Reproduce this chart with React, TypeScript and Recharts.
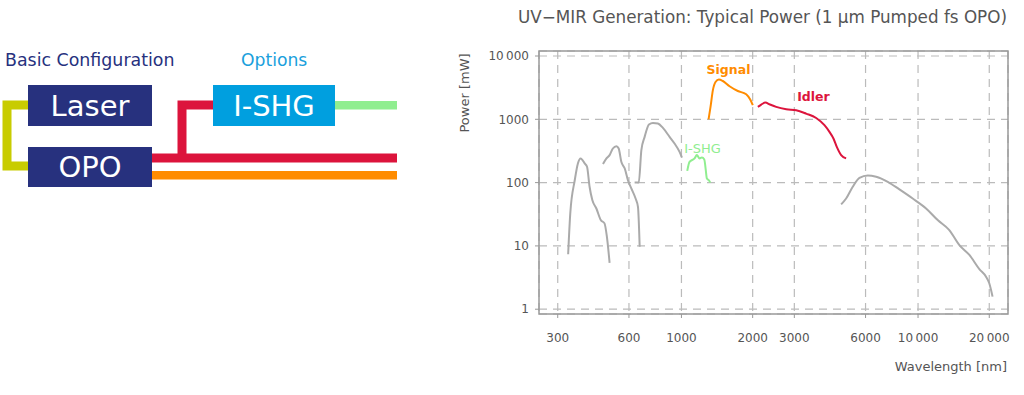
import {
  LineChart,
  Line,
  XAxis,
  YAxis,
  CartesianGrid,
  ReferenceArea,
  ReferenceDot,
} from "recharts";

const FONT = "'DejaVu Sans', sans-serif";

// axis ticks
const wavelengthTicks = [300, 600, 1000, 2000, 3000, 6000, 10000, 20000];
const powerTicks = [1, 10, 100, 1000, 10000];

// gray: third harmonic / UV
const uvWavelength = [332, 339, 354, 365, 375, 390, 399, 409, 420, 437, 456, 473, 484, 497];
const uvPower = [7.4, 33, 109, 201, 241, 201, 178, 86, 53, 39, 25.6, 22.7, 14, 5.4];

// gray: SHG of idler / blue-green
const visWavelength = [466, 482, 497, 513, 531, 543, 557, 576, 594, 614, 640, 655, 666];
const visPower = [196, 241, 272, 346, 377, 346, 213, 167, 109, 81, 56, 41.5, 9.7];

// gray: SHG of signal / red-NIR
const nirWavelength = [634, 660, 677, 699, 729, 758, 795, 835, 891, 935, 982, 1005];
const nirPower = [100, 100, 326, 528, 828, 877, 859, 731, 528, 415, 306, 249];

// green: I-SHG option
const ishgWavelength = [1058, 1082, 1136, 1162, 1193, 1220, 1249, 1265, 1281, 1306, 1324];
const ishgPower = [153, 213, 241, 272, 241, 249, 232, 167, 116, 109, 100];

// orange: signal
const signalWavelength = [1302, 1327, 1358, 1393, 1439, 1496, 1597, 1731, 1878, 1953, 2003];
const signalPower = [1000, 1570, 2890, 3890, 4250, 4030, 3330, 2800, 2490, 2050, 1670];

// red: idler
const idlerWavelength = [2104, 2174, 2266, 2355, 2515, 2773, 3055, 3366, 3711, 4022, 4223, 4390, 4535, 4732, 4966];
const idlerPower = [1570, 1710, 1840, 1730, 1570, 1440, 1390, 1230, 1050, 807, 632, 498, 367, 272, 241];

// gray: DFG / MIR
const mirWavelength = [4732, 4966, 5297, 5654, 6131, 6650, 7448, 8343, 9493, 10813, 12106, 13555, 14955, 16480, 18160, 19380, 20000, 20650];
const mirPower = [45.3, 56, 86, 119, 130, 124, 103, 78, 56, 39, 25.6, 17.8, 10.3, 7.2, 4.3, 3.27, 2.57, 1.58];

const toPoints = (wl: number[], p: number[]) => wl.map((w, i) => ({ wl: w, p: p[i] }));

const fmt = (v: number) => (v >= 10000 ? `${Math.floor(v / 1000)}\u2009000` : String(v));

const X_DOMAIN: [number, number] = [250, 24000];
const Y_DOMAIN: [number, number] = [0.84, 12000];

const GRAY = "#aaaaaa";
const NAVY = "#27317e";
const BLUE = "#009fdf";

function Diagram() {
  return (
    <svg
      width={1024}
      height={395}
      style={{ position: "absolute", left: 0, top: 0, pointerEvents: "none" }}
    >
      <text x={5} y={66} fontFamily={FONT} fontSize={17.4} fill={NAVY}>
        Basic Configuration
      </text>
      <text x={241} y={66} fontFamily={FONT} fontSize={17.2} fill="#1aa0dc">
        Options
      </text>

      {/* pump link */}
      <path d="M28 105 H7 V166 H28" stroke="#c8cc00" strokeWidth={9} fill="none" />
      {/* idler into I-SHG */}
      <path d="M152 158 H397 M182 158 V105 H213" stroke="#dc143c" strokeWidth={9} fill="none" />
      <rect x={152} y={171} width={245} height={8.5} fill="#ff8c00" />
      <rect x={335} y={101} width={62} height={8.5} fill="#90ee90" />

      <rect x={28} y={85} width={124} height={41} fill={NAVY} />
      <rect x={28} y={147} width={124} height={40} fill={NAVY} />
      <rect x={213} y={85} width={122} height={41} fill={BLUE} />
      <text x={90} y={116} textAnchor="middle" fontFamily={FONT} fontSize={29} fill="#fff">
        Laser
      </text>
      <text x={90} y={177} textAnchor="middle" fontFamily={FONT} fontSize={29} fill="#fff">
        OPO
      </text>
      <text x={274} y={116} textAnchor="middle" fontFamily={FONT} fontSize={29} fill="#fff">
        I-SHG
      </text>

      {/* chart texts */}
      <text x={1007} y={23} textAnchor="end" fontFamily={FONT} fontSize={16.8} fill="#555">
        UV−MIR Generation: Typical Power (1 µm Pumped fs OPO)
      </text>
      <text
        x={0}
        y={0}
        transform="translate(469 93) rotate(-90)"
        textAnchor="middle"
        fontFamily={FONT}
        fontSize={13}
        fill="#555"
      >
        Power [mW]
      </text>
      <text x={1007} y={371} textAnchor="end" fontFamily={FONT} fontSize={13} fill="#555">
        Wavelength [nm]
      </text>
    </svg>
  );
}

export default function App() {
  const tick = { fontSize: 12, fill: "#555", fontFamily: FONT };
  const lineProps = {
    dataKey: "p",
    dot: false,
    strokeWidth: 2,
    type: "monotone" as const,
    isAnimationActive: false,
  };
  return (
    <div style={{ position: "absolute", left: 0, top: 0, width: 1024, height: 395, background: "#fff" }}>
      <LineChart width={1024} height={395} margin={{ top: 51, right: 16, bottom: 51, left: 459 }}>
        <CartesianGrid stroke="#bbbbbb" strokeDasharray="8 6" strokeWidth={1.2} />
        <XAxis
          dataKey="wl"
          type="number"
          scale="log"
          domain={X_DOMAIN}
          ticks={wavelengthTicks}
          allowDataOverflow
          tickFormatter={fmt}
          tick={tick}
          tickSize={4}
          tickMargin={15}
          height={30}
          axisLine={false}
          tickLine={{ stroke: "#999" }}
        />
        <YAxis
          type="number"
          scale="log"
          domain={Y_DOMAIN}
          ticks={powerTicks}
          allowDataOverflow
          tickFormatter={fmt}
          tick={tick}
          tickSize={4}
          tickMargin={6}
          width={80}
          axisLine={false}
          tickLine={{ stroke: "#999" }}
        />
        <ReferenceArea
          x1={X_DOMAIN[0]}
          x2={X_DOMAIN[1]}
          y1={Y_DOMAIN[0]}
          y2={Y_DOMAIN[1]}
          fill="none"
          stroke="#999"
          strokeWidth={1.5}
        />
        <Line data={toPoints(uvWavelength, uvPower)} stroke={GRAY} {...lineProps} />
        <Line data={toPoints(visWavelength, visPower)} stroke={GRAY} {...lineProps} />
        <Line data={toPoints(nirWavelength, nirPower)} stroke={GRAY} {...lineProps} />
        <Line data={toPoints(mirWavelength, mirPower)} stroke={GRAY} {...lineProps} />
        <Line data={toPoints(ishgWavelength, ishgPower)} stroke="#90ee90" {...lineProps} />
        <Line data={toPoints(signalWavelength, signalPower)} stroke="#ff8c00" {...lineProps} />
        <Line data={toPoints(idlerWavelength, idlerPower)} stroke="#dc143c" {...lineProps} />
        <ReferenceDot
          x={1581}
          y={6170}
          r={0}
          stroke="none"
          label={{ value: "Signal", position: "center", fill: "#ff8c00", fontSize: 12.5, fontWeight: 700, fontFamily: FONT }}
        />
        <ReferenceDot
          x={3614}
          y={2313}
          r={0}
          stroke="none"
          label={{ value: "Idler", position: "center", fill: "#dc143c", fontSize: 12.5, fontWeight: 700, fontFamily: FONT }}
        />
        <ReferenceDot
          x={1228}
          y={352}
          r={0}
          stroke="none"
          label={{ value: "I-SHG", position: "center", fill: "#90ee90", fontSize: 13, fontFamily: FONT }}
        />
      </LineChart>
      <Diagram />
    </div>
  );
}
